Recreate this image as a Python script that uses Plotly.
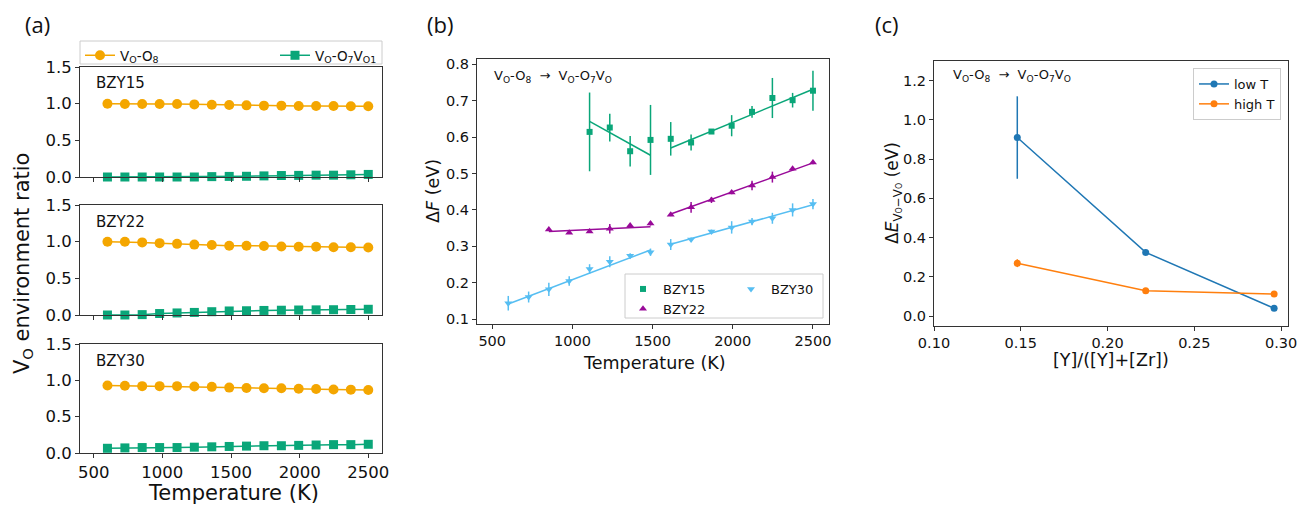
import plotly.graph_objects as go

FONT = "DejaVu Sans"
W, H = 1301, 508

# ---------------- data ----------------
temps = [600, 727, 853, 980, 1107, 1233, 1360, 1487, 1613, 1740, 1867, 1993, 2120, 2247, 2373, 2500]

# panel (a): V_O environment ratio
bzy15_o8 = [1.0, 0.995, 0.995, 0.995, 0.995, 0.99, 0.986, 0.982, 0.977, 0.973, 0.973, 0.968, 0.968, 0.968, 0.964, 0.964]
bzy15_o7 = [0.0, 0.0, 0.0, 0.0, 0.0, 0.0, 0.005, 0.008, 0.01, 0.015, 0.02, 0.022, 0.025, 0.025, 0.03, 0.035]
bzy22_o8 = [1.0, 1.0, 0.99, 0.98, 0.97, 0.96, 0.955, 0.945, 0.945, 0.94, 0.935, 0.93, 0.93, 0.925, 0.925, 0.92]
bzy22_o7 = [0.0, 0.0, 0.005, 0.02, 0.028, 0.035, 0.045, 0.055, 0.058, 0.062, 0.065, 0.068, 0.07, 0.072, 0.075, 0.078]
bzy30_o8 = [0.93, 0.925, 0.92, 0.92, 0.92, 0.915, 0.91, 0.9, 0.895, 0.89, 0.89, 0.885, 0.88, 0.875, 0.872, 0.868]
bzy30_o7 = [0.065, 0.07, 0.075, 0.075, 0.075, 0.08, 0.085, 0.09, 0.095, 0.1, 0.1, 0.105, 0.11, 0.115, 0.115, 0.12]
panel_a_names = ["BZY15", "BZY22", "BZY30"]

# panel (b): Delta F
t15 = [1107, 1233, 1360, 1487, 1613, 1740, 1867, 1993, 2120, 2247, 2373, 2500]
df15 = [0.614, 0.626, 0.561, 0.592, 0.595, 0.585, 0.615, 0.631, 0.669, 0.707, 0.701, 0.727]
err15 = [0.108, 0.038, 0.042, 0.096, 0.046, 0.022, 0.005, 0.029, 0.016, 0.055, 0.02, 0.055]
t22 = [853, 980, 1107, 1233, 1360, 1487, 1613, 1740, 1867, 1993, 2120, 2247, 2373, 2500]
df22 = [0.346, 0.337, 0.341, 0.348, 0.357, 0.363, 0.387, 0.407, 0.427, 0.448, 0.467, 0.490, 0.513, 0.530]
err22 = [0.003, 0.003, 0.004, 0.013, 0.004, 0.006, 0.004, 0.015, 0.008, 0.005, 0.013, 0.015, 0.005, 0.005]
t30 = temps
df30 = [0.144, 0.161, 0.182, 0.205, 0.238, 0.258, 0.274, 0.284, 0.305, 0.319, 0.341, 0.352, 0.368, 0.377, 0.400, 0.416]
err30 = [0.02, 0.015, 0.018, 0.013, 0.013, 0.015, 0.007, 0.01, 0.015, 0.005, 0.005, 0.017, 0.01, 0.015, 0.018, 0.014]

# linear fits (segment end values) low-T / high-T
fit15_low_t, fit15_low = [1107, 1487], [0.643, 0.550]
fit15_high_t, fit15_high = [1613, 2500], [0.570, 0.731]
fit22_low_t, fit22_low = [853, 1487], [0.341, 0.354]
fit22_high_t, fit22_high = [1613, 2500], [0.389, 0.529]
fit30_low_t, fit30_low = [600, 1487], [0.142, 0.290]
fit30_high_t, fit30_high = [1613, 2500], [0.306, 0.414]

# panel (c)
y_frac = [0.148, 0.222, 0.296]
low_t = [0.91, 0.325, 0.04]
low_t_err = [0.21, 0.01, 0.005]
high_t = [0.27, 0.13, 0.113]
high_t_err = [0.02, 0.005, 0.005]

# ---------------- styles ----------------
ORANGE = "#F4A600"
GREEN = "#0AA679"
PURPLE = "#990A99"
SKY = "#56BEF2"
TBLUE = "#1f77b4"
TORANGE = "#ff7f0e"
AX = "#333333"
LEGBORDER = "#cccccc"

def px(x):
    return x / W

def py(y):
    return 1 - y / H

fig = go.Figure()

# ---------- panel (a) ----------
a_sets = [(bzy15_o8, bzy15_o7), (bzy22_o8, bzy22_o7), (bzy30_o8, bzy30_o7)]
for i, (o8, o7) in enumerate(a_sets):
    xa = "x" if i == 0 else f"x{i+1}"
    ya = "y" if i == 0 else f"y{i+1}"
    fig.add_trace(go.Scatter(
        x=temps, y=o8, mode="lines+markers", xaxis=xa, yaxis=ya,
        line=dict(color=ORANGE, width=1.5),
        marker=dict(symbol="circle", size=10, color=ORANGE),
        name="V<sub>O</sub>-O<sub>8</sub>", showlegend=(i == 0), legend="legend",
        cliponaxis=False))
    fig.add_trace(go.Scatter(
        x=temps, y=o7, mode="lines+markers", xaxis=xa, yaxis=ya,
        line=dict(color=GREEN, width=1.5),
        marker=dict(symbol="square", size=9, color=GREEN),
        name="V<sub>O</sub>-O<sub>7</sub>V<sub>O1</sub>", showlegend=(i == 0), legend="legend4",
        cliponaxis=False))

# ---------- panel (b) ----------
b_series = [
    ("BZY15", t15, df15, err15, GREEN, "square", 6, "legend2",
     [(fit15_low_t, fit15_low), (fit15_high_t, fit15_high)]),
    ("BZY22", t22, df22, err22, PURPLE, "triangle-up", 7, "legend2",
     [(fit22_low_t, fit22_low), (fit22_high_t, fit22_high)]),
    ("BZY30", t30, df30, err30, SKY, "triangle-down", 7, "legend5",
     [(fit30_low_t, fit30_low), (fit30_high_t, fit30_high)]),
]
for name, tx, yv, ev, col, sym, sz, leg, fits in b_series:
    for ft, fv in fits:
        fig.add_trace(go.Scatter(x=ft, y=fv, mode="lines", xaxis="x4", yaxis="y4",
                                 line=dict(color=col, width=1.5), showlegend=False,
                                 hoverinfo="skip"))
    fig.add_trace(go.Scatter(
        x=tx, y=yv, mode="markers", xaxis="x4", yaxis="y4",
        marker=dict(symbol=sym, size=sz, color=col),
        error_y=dict(type="data", array=ev, thickness=1.5, width=0, color=col),
        name=name, legend=leg))

# ---------- panel (c) ----------
fig.add_trace(go.Scatter(
    x=y_frac, y=low_t, mode="lines+markers", xaxis="x5", yaxis="y5",
    line=dict(color=TBLUE, width=1.5), marker=dict(size=7, color=TBLUE),
    error_y=dict(type="data", array=low_t_err, thickness=1.5, width=0, color=TBLUE),
    name="low T", legend="legend3"))
fig.add_trace(go.Scatter(
    x=y_frac, y=high_t, mode="lines+markers", xaxis="x5", yaxis="y5",
    line=dict(color=TORANGE, width=1.5), marker=dict(size=7, color=TORANGE),
    error_y=dict(type="data", array=high_t_err, thickness=1.5, width=0, color=TORANGE),
    name="high T", legend="legend3"))

# ---------- axes ----------
def ax(size, **kw):
    d = dict(showline=True, mirror=True, linecolor=AX, linewidth=1,
             ticks="outside", ticklen=4, tickcolor=AX, tickwidth=1,
             showgrid=False, zeroline=False, automargin=False,
             tickfont=dict(family=FONT, size=size, color="#111"))
    d.update(kw)
    return d

A_X = [px(80), px(382)]
a_y = [[py(177), py(67)], [py(315), py(205)], [py(453), py(344)]]
tv = [500, 1000, 1500, 2000, 2500]

def leg(x, y, xanchor="left", size=13, border=0):
    return dict(x=px(x), y=py(y), xanchor=xanchor, yanchor="top",
                bgcolor="rgba(255,255,255,0)" if border == 0 else "rgba(255,255,255,0.8)",
                bordercolor=LEGBORDER, borderwidth=border,
                font=dict(family=FONT, size=size, color="#111"))

layout = dict(
    width=W, height=H, margin=dict(l=0, r=0, t=0, b=0, autoexpand=False),
    paper_bgcolor="white", plot_bgcolor="white",
    font=dict(family=FONT, color="#111"),
    xaxis=ax(16.5, domain=A_X, anchor="y", range=[400, 2600], tickvals=tv, showticklabels=False),
    yaxis=ax(16.5, domain=a_y[0], anchor="x", range=[0, 1.5], dtick=0.5, tickformat=".1f"),
    xaxis2=ax(16.5, domain=A_X, anchor="y2", range=[400, 2600], tickvals=tv, showticklabels=False),
    yaxis2=ax(16.5, domain=a_y[1], anchor="x2", range=[0, 1.5], dtick=0.5, tickformat=".1f"),
    xaxis3=ax(16.5, domain=A_X, anchor="y3", range=[400, 2600], tickvals=tv),
    yaxis3=ax(16.5, domain=a_y[2], anchor="x3", range=[0, 1.5], dtick=0.5, tickformat=".1f"),
    xaxis4=ax(14.5, domain=[px(477), px(829)], anchor="y4", range=[405, 2600], tickvals=tv),
    yaxis4=ax(14.5, domain=[py(324), py(59)], anchor="x4", range=[0.087, 0.814], dtick=0.1, tickformat=".1f"),
    xaxis5=ax(14.5, domain=[px(934), px(1288)], anchor="y5", range=[0.10, 0.304], dtick=0.05, tickformat=".2f"),
    yaxis5=ax(14.5, domain=[py(326), py(61)], anchor="x5", range=[-0.05, 1.30], dtick=0.2, tickformat=".1f"),
    legend=leg(80, 40, size=13.5),
    legend4=leg(382, 40, xanchor="right", size=13.5),
    legend2=leg(623, 274, size=13),
    legend5=leg(731, 274, size=13),
    legend3=leg(1281, 68, xanchor="right", size=13, border=1),
)
fig.update_layout(**layout)

# legend frames for (a) and (b)
shapes = [
    dict(type="rect", xref="paper", yref="paper", x0=px(80), x1=px(382), y0=py(64), y1=py(41),
         line=dict(color=LEGBORDER, width=1), fillcolor="rgba(255,255,255,0.8)", layer="below"),
    dict(type="rect", xref="paper", yref="paper", x0=px(625), x1=px(823), y0=py(318), y1=py(274),
         line=dict(color=LEGBORDER, width=1), fillcolor="rgba(255,255,255,0.8)", layer="above"),
]
fig.update_layout(shapes=shapes)

ann = []
def text(x, y, s, size, xanchor="center", yanchor="middle", angle=0, family=FONT):
    ann.append(dict(x=px(x), y=py(y), xref="paper", yref="paper", text=s, showarrow=False,
                    xanchor=xanchor, yanchor=yanchor, textangle=angle,
                    font=dict(family=family, size=size, color="#111")))

# panel labels
text(37, 24, "(a)", 22, family="Open Sans")
text(440, 24, "(b)", 22, family="Open Sans")
text(887, 24, "(c)", 22, family="Open Sans")

# subplot names in (a)
for nm, yy in zip(panel_a_names, [83, 222, 361]):
    text(94, yy, nm, 15, xanchor="left")

# axis titles
text(233, 493, "Temperature (K)", 21)
text(23, 264, "V<sub>O</sub> environment ratio", 21, angle=-90)
text(654, 363, "Temperature (K)", 17.5)
text(433, 191, "Δ<i>F</i> (eV)", 17.5, angle=-90)
text(1111, 360, "[Y]/([Y]+[Zr])", 17.5)
text(893, 193, "Δ<i>E</i><sub>V<span style='font-size:8px'>O</span>−V<span style='font-size:8px'>O</span></sub> (eV)", 17, angle=-90)

# reaction labels
rx = "V<sub>O</sub>-O<sub>8</sub>  →  V<sub>O</sub>-O<sub>7</sub>V<sub>O</sub>"
text(492, 77, rx, 13, xanchor="left")
text(951, 76, rx, 13, xanchor="left")

fig.update_layout(annotations=ann)
fig.write_html("out.html")
